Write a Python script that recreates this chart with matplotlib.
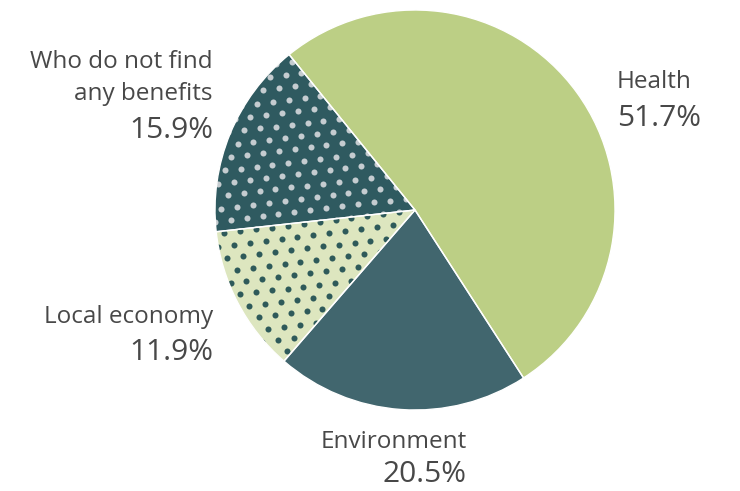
import numpy as np
import matplotlib
matplotlib.use("Agg")
import matplotlib.pyplot as plt

# data
labels = ["Health", "Environment", "Local economy", "Who do not find\nany benefits"]
values = [51.7, 20.5, 11.9, 15.9]
pct_text = ["51.7%", "20.5%", "11.9%", "15.9%"]

colors = ["#bccf85", "#41666e", "#dde6bf", "#2f5a60"]
dotted = [False, False, True, True]
dot_colors = [None, None, "#2e5a5a", "#c5ccd0"]

plt.rcParams['font.family'] = ['Open Sans', 'DejaVu Sans']

fig = plt.figure(figsize=(7.4, 4.91), dpi=100)
ax = fig.add_axes([0, 0, 1, 1])

# pie centred at (415, 210) px with radius 200 px
def px(x, y):
    return (x - 415) / 200, (210 - y) / 200

wedges, _ = ax.pie(values, startangle=129, counterclock=False, colors=colors,
                   radius=1, center=(0, 0), frame=True,
                   wedgeprops=dict(linewidth=0))

# dot texture (staggered grid, slightly rotated) clipped to the wedges
step = 16 / 200
gx, gy = [], []
for r in range(-18, 19):
    for c in range(-15, 16):
        gx.append(c * step + (r % 2) * step / 2)
        gy.append(r * step * 0.78)
gx, gy = np.array(gx), np.array(gy)
th = np.deg2rad(7)
tx = gx * np.cos(th) - gy * np.sin(th)
ty = gx * np.sin(th) + gy * np.cos(th)
for w, d, dc in zip(wedges, dotted, dot_colors):
    if d:
        sc = ax.scatter(tx, ty, s=19, color=dc, linewidths=0, zorder=2)
        sc.set_clip_path(w)

# thin white separators
ax.pie(values, startangle=129, counterclock=False, radius=1, center=(0, 0),
       frame=True, wedgeprops=dict(fill=False, edgecolor="white", linewidth=1.0,
                                   zorder=3))

txt_col = "#484848"
# label anchor positions (px), alignment
label_pos = [(617, 82, "left"), (467, 442, "right"), (213, 317, "right"), (213, 78, "right")]
pct_pos = [(617, 119, "left"), (467, 475, "right"), (213, 353, "right"), (213, 131, "right")]

for lab, p, lp, pp in zip(labels, pct_text, label_pos, pct_pos):
    x, y = px(lp[0], lp[1])
    ax.text(x, y, lab, ha=lp[2], va="center", fontsize=17.5, color=txt_col,
            multialignment=lp[2], linespacing=1.5)
    x, y = px(pp[0], pp[1])
    ax.text(x, y, p, ha=pp[2], va="center", fontsize=21.5, color=txt_col)

ax.set_xlim(-415 / 200, 325 / 200)
ax.set_ylim(-281 / 200, 210 / 200)
ax.set_aspect("equal")
ax.axis("off")

fig.savefig("out.png", dpi=100)
